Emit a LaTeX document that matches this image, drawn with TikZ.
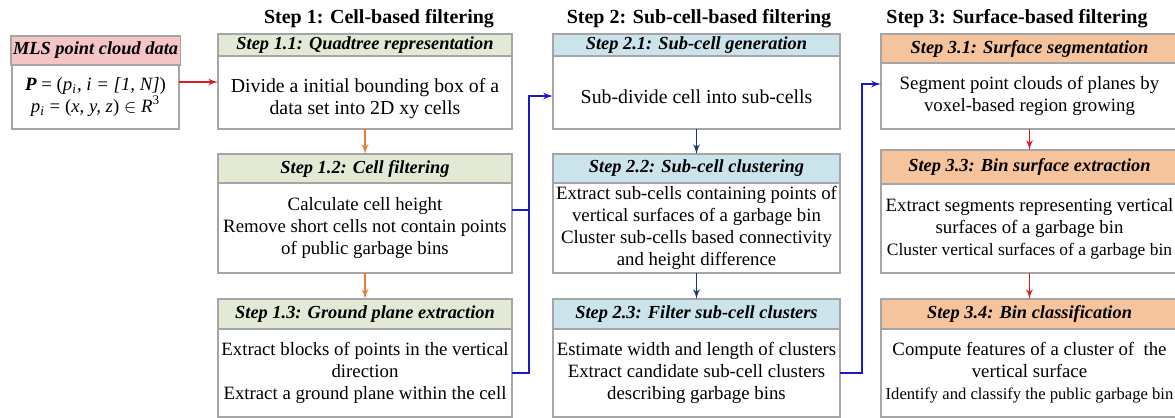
\documentclass[tikz,border=0pt]{standalone}
\usepackage{fontspec}
\setmainfont{Liberation Serif}
\usepackage{tikz}
\usetikzlibrary{shapes, arrows, positioning, calc}
\definecolor{headgreen}{RGB}{226,234,214}
\definecolor{headblue}{RGB}{203,228,236}
\definecolor{headorange}{RGB}{246,196,156}
\definecolor{headpink}{RGB}{244,196,198}
\definecolor{boxgray}{RGB}{165,165,165}
\definecolor{arrorange}{RGB}{237,125,49}
\definecolor{arrnavy}{RGB}{31,56,110}
\definecolor{arrred}{RGB}{215,30,40}
\definecolor{busblue}{RGB}{25,25,200}
\tikzstyle{head} = [rectangle, draw=boxgray, line width=0.6pt, inner sep=1pt, outer sep=0pt, anchor=north west, font=\fontsize{9.2}{11}\selectfont\bfseries\itshape]
\tikzstyle{body} = [rectangle, draw=boxgray, line width=0.6pt, fill=white, align=center, inner sep=1pt, outer sep=0pt, font=\fontsize{9.4}{11}\selectfont]
\tikzstyle{title} = [font=\fontsize{10}{12}\selectfont\bfseries]
\tikzstyle{arrow} = [draw, -latex', line width=0.7pt]
\tikzstyle{bus} = [draw=busblue, line width=0.7pt]
\tikzset{colA/.style={minimum width=147pt}, colB/.style={minimum width=143.5pt}, colC/.style={minimum width=148.5pt}}

\begin{document}
\begin{tikzpicture}[x=0.5pt, y=-0.5pt]
    \useasboundingbox (0,0) rectangle (1175,418);

    % column titles
    \node[title] (title1) at (379,19) {Step 1: Cell-based filtering};
    \node[title] (title2) at (699,19) {Step 2: Sub-cell-based filtering};
    \node[title] (title3) at (1017,19) {Step 3: Surface-based filtering};

    % input data
    \node[head, fill=headpink, minimum width=83.5pt, minimum height=14.5pt] (head0) at (11,36) {MLS point cloud data};
    \node[body, minimum width=83.5pt, minimum height=32pt, below=0pt of head0] (body0) {\textbf{\textit{P}} = (\textit{p}\textsubscript{\textit{i}}, \textit{i = [1, N]})\\ \textit{p}\textsubscript{\textit{i}} = (\textit{x, y, z}) $\in$ \textit{R}\textsuperscript{3}};

    % step 1
    \node[head, colA, fill=headgreen, minimum height=11pt] (head11) at (218,34) {Step 1.1: Quadtree representation};
    \node[body, colA, minimum height=36.5pt, below=0pt of head11, font=\fontsize{9.9}{11}\selectfont] (body11) {\rule{0pt}{13.5pt}Divide a initial bounding box of a\\ data set into 2D xy cells};
    \node[head, colA, fill=headgreen, minimum height=14.5pt] (head12) at (218,154) {Step 1.2: Cell filtering};
    \node[body, colA, minimum height=45pt, below=0pt of head12] (body12) {Calculate cell height\\ Remove short cells not contain points\\ of public garbage bins};
    \node[head, colA, fill=headgreen, minimum height=15pt] (head13) at (218,299) {Step 1.3: Ground plane extraction};
    \node[body, colA, minimum height=44pt, below=0pt of head13] (body13) {Extract blocks of points in the vertical\\ direction\\ Extract a ground plane within the cell};

    % step 2
    \node[head, colB, fill=headblue, minimum height=11pt] (head21) at (553,34) {Step 2.1: Sub-cell generation};
    \node[body, colB, minimum height=36.5pt, below=0pt of head21, font=\fontsize{9.9}{11}\selectfont] (body21) {\rule{0pt}{11pt}Sub-divide cell into sub-cells};
    \node[head, colB, fill=headblue, minimum height=14.5pt] (head22) at (553,154) {Step 2.2: Sub-cell clustering};
    \node[body, colB, minimum height=45pt, below=0pt of head22] (body22) {Extract sub-cells containing points of\\ vertical surfaces of a garbage bin\\ Cluster sub-cells based connectivity\\ and height difference};
    \node[head, colB, fill=headblue, minimum height=15pt] (head23) at (553,299) {Step 2.3: Filter sub-cell clusters};
    \node[body, colB, minimum height=44pt, below=0pt of head23] (body23) {Estimate width and length of clusters\\ Extract candidate sub-cell clusters\\ describing garbage bins};

    % step 3
    \node[head, colC, fill=headorange, minimum height=14.5pt] (head31) at (881,34) {Step 3.1: Surface segmentation};
    \node[body, colC, minimum height=33pt, below=0pt of head31] (body31) {Segment point clouds of planes by\\ voxel-based region growing};
    \node[head, colC, fill=headorange, minimum height=17pt] (head33) at (881,150) {Step 3.3: Bin surface extraction};
    \node[body, colC, minimum height=44.5pt, below=0pt of head33] (body33) {Extract segments representing vertical\\ surfaces of a garbage bin\\ {\fontsize{8.7}{11}\selectfont Cluster vertical surfaces of a garbage bin}};
    \node[head, colC, fill=headorange, minimum height=15pt] (head34) at (881,299) {Step 3.4: Bin classification};
    \node[body, colC, minimum height=44pt, below=0pt of head34] (body34) {Compute features of a cluster of~ the\\ vertical surface\\ {\fontsize{8.3}{11}\selectfont Identify and classify the public garbage bin}};

    % arrows
    \draw[arrow, arrred] ([yshift=7.5pt]body0.east) -- ([yshift=7.5pt]body0.east -| body11.west);
    \draw[arrow, arrorange] (body11) -- (head12);
    \draw[arrow, arrorange] (body12) -- (head13);
    \draw[arrow, arrnavy] (body21) -- (head22);
    \draw[arrow, arrnavy] (body22) -- (head23);
    \draw[arrow, arrred] (body31) -- (head33);
    \draw[arrow, arrred] (body33) -- (head34);

    % links between steps
    \coordinate (bus1) at (529,96);
    \coordinate (bus2) at (862,84);
    \draw[bus] ([yshift=9pt]body12.east) -- ([yshift=9pt]body12.east -| bus1);
    \draw[bus, -latex'] (body13.east) -| (bus1) -- (bus1 -| body21.west);
    \draw[bus, -latex'] (body23.east) -| (bus2) -- (bus2 -| body31.west);
\end{tikzpicture}
\end{document}
